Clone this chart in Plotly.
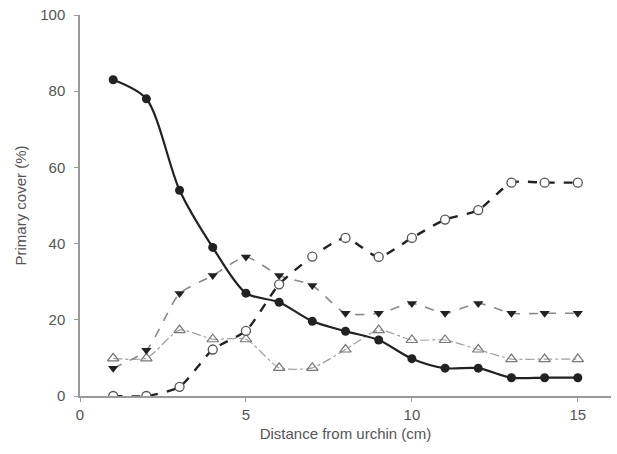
import plotly.graph_objects as go

distance = [1, 2, 3, 4, 5, 6, 7, 8, 9, 10, 11, 12, 13, 14, 15]
filled_circle = [83, 78, 54, 39, 27, 24.6, 19.6, 17, 14.7, 9.8, 7.3, 7.3, 4.8, 4.8, 4.8]
open_circle = [0, 0, 2.4, 12.2, 17.1, 29.3, 36.6, 41.5, 36.5, 41.5, 46.3, 48.8, 56, 56, 56]
filled_tri_down = [7.3, 12, 26.9, 31.6, 36.5, 31.6, 29, 21.7, 21.7, 24.3, 21.7, 24.3, 21.7, 21.7, 21.7]
open_tri_up = [9.9, 9.9, 17.3, 14.9, 14.9, 7.4, 7.4, 12.2, 17.3, 14.7, 14.7, 12.2, 9.7, 9.7, 9.7]

fig = go.Figure()

fig.add_trace(go.Scatter(
    x=distance, y=open_tri_up, mode="lines+markers",
    line=dict(color="#a0a0a0", width=1.2, dash="dashdot", shape="spline", smoothing=0.6),
    marker=dict(symbol="triangle-up-open", size=10, color="#777777", line=dict(width=1.2)),
    showlegend=False))

fig.add_trace(go.Scatter(
    x=distance, y=filled_tri_down, mode="lines+markers",
    line=dict(color="#8a8a8a", width=1.6, dash="dash", shape="spline", smoothing=0.6),
    marker=dict(symbol="triangle-down", size=9, color="#222222"),
    showlegend=False))

fig.add_trace(go.Scatter(
    x=distance, y=open_circle, mode="lines+markers",
    line=dict(color="#222222", width=2.4, dash="dash", shape="spline", smoothing=0.6),
    marker=dict(symbol="circle", size=9, color="white", line=dict(color="#555555", width=1.3)),
    showlegend=False))

fig.add_trace(go.Scatter(
    x=distance, y=filled_circle, mode="lines+markers",
    line=dict(color="#222222", width=2.2, shape="spline", smoothing=0.8),
    marker=dict(symbol="circle", size=9, color="#222222"),
    showlegend=False))

axis_font = dict(family="Liberation Sans, Arial, sans-serif", size=15, color="#555555")

fig.update_layout(
    width=617, height=454,
    margin=dict(l=80, r=6, t=15, b=58),
    paper_bgcolor="white", plot_bgcolor="white",
    font=axis_font,
    xaxis=dict(
        range=[0, 16], tickvals=[0, 5, 10, 15], showgrid=False, zeroline=False,
        showline=True, linecolor="#9a9a9a", linewidth=2,
        ticks="outside", ticklen=4, tickcolor="#9a9a9a",
        title=dict(text="Distance from urchin (cm)", font=axis_font, standoff=6),
        tickfont=axis_font),
    yaxis=dict(
        range=[0, 100], tickvals=[0, 20, 40, 60, 80, 100], showgrid=False, zeroline=False,
        showline=True, linecolor="#9a9a9a", linewidth=1.5,
        ticks="outside", ticklen=4, tickcolor="#9a9a9a", ticklabelstandoff=6,
        title=dict(text="Primary cover (%)", font=axis_font, standoff=10),
        tickfont=axis_font),
)

fig.write_html("out.html")
